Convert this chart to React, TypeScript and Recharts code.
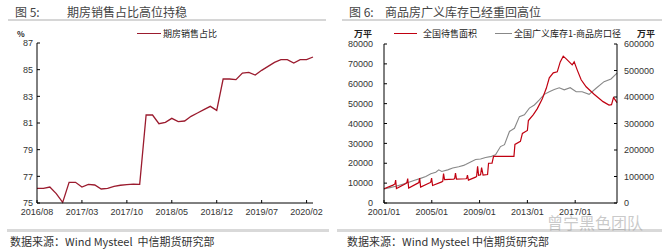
import { LineChart, Line, XAxis, YAxis } from "recharts";

// 图5：期房销售占比（%）
const presaleMonths = [
  "2016/08", "2016/09", "2016/10", "2016/11", "2016/12",
  "2017/01", "2017/02", "2017/03", "2017/04", "2017/05", "2017/06",
  "2017/07", "2017/08", "2017/09", "2017/10", "2017/11", "2017/12",
  "2018/01", "2018/02", "2018/03", "2018/04", "2018/05", "2018/06",
  "2018/07", "2018/08", "2018/09", "2018/10", "2018/11", "2018/12",
  "2019/01", "2019/02", "2019/03", "2019/04", "2019/05", "2019/06",
  "2019/07", "2019/08", "2019/09", "2019/10", "2019/11", "2019/12",
  "2020/01", "2020/02", "2020/03",
];
const presaleShare = [
  76.1, 76.1, 76.2, 75.7, 75.05,
  76.55, 76.55, 76.2, 76.4, 76.35, 76.05,
  76.1, 76.25, 76.33, 76.38, 76.42, 76.4,
  81.6, 81.6, 80.95, 81.05, 81.35, 81.1,
  81.15, 81.5, 81.75, 82.0, 82.25, 81.95,
  84.3, 84.3, 84.25, 84.75, 84.8, 84.6,
  84.95, 85.25, 85.55, 85.75, 85.75, 85.5,
  85.75, 85.75, 85.95,
];
const shareTicks = [75, 77, 79, 81, 83, 85, 87];

// 图6：months counted from 2001/01
const saleMonths = [
  0, 9, 11, 11.7, 12.5, 22, 23, 23.8, 24.8, 34, 35, 35.8, 36.8,
  46, 47, 47.8, 48.8, 58, 59, 59.8, 60.8, 70, 71, 71.8, 72.8,
  82, 83, 83.8, 84.8, 92, 93, 94, 95, 97, 98, 99.5, 104, 105,
  108.5, 110, 130.5, 131.5, 137, 139, 144, 145, 150, 154, 159,
  163, 166, 170, 174, 177, 180, 183, 186, 189, 191, 194, 198,
  203, 211, 220, 226, 228.5, 230.5, 232, 234,
];
const saleArea = [
  7200, 9000, 9600, 11500, 7300, 9800, 10300, 12300, 7500, 10000, 10300, 12500, 8000,
  10200, 10500, 12500, 8800, 10600, 11000, 14800, 11800, 12000, 12400, 15000, 12000,
  12200, 12300, 14000, 11500, 13000, 13400, 18500, 14000, 14200, 17800, 14000, 14300, 20000,
  20000, 23500, 23500, 29500, 31000, 35000, 36500, 41500, 44500, 47500, 52500,
  57700, 63000, 65500, 66000, 71000, 73900, 72500, 71000, 69500, 71000, 67000, 62000,
  58500, 54700, 51000, 49300, 49500, 53000, 52000, 50500,
];
const broadMonths = [
  0, 6, 12, 18, 25, 30, 36, 42, 47, 52, 55, 58, 64, 69, 75, 80, 82,
  86, 92, 97, 102, 108, 112, 117, 121, 126, 131, 136, 141, 146, 151,
  156, 161, 166, 171, 176, 181, 187, 193, 199, 206, 213, 221, 228, 234,
];
const broadStock = [
  53000, 58000, 63000, 70000, 78000, 85000, 92000, 100000, 110000, 116000, 125000, 119000,
  125000, 132000, 137000, 142000, 145000, 153000, 164000, 166000, 172000, 176000, 182000,
  213000, 220000, 270000, 282000, 326000, 333000, 358000, 370000, 389000, 410000, 420000,
  428000, 435000, 427000, 435000, 420000, 420000, 410000, 433000, 458000, 468000, 490000,
];
const areaTicks = [0, 10000, 20000, 30000, 40000, 50000, 60000, 70000, 80000];
const broadTicks = [0, 100000, 200000, 300000, 400000, 500000, 600000];
const yearTicks = [0, 48, 96, 144, 192];

const presaleData = presaleMonths.map((m, i) => ({ label: m, share: presaleShare[i] }));
const saleData = saleMonths.map((m, i) => ({ m, v: saleArea[i] }));
const broadData = broadMonths.map((m, i) => ({ m, v: broadStock[i] }));

const tickFont = { fill: "#333", fontSize: 9, fontFamily: "Liberation Sans, Arial" };
const cjk = "'Noto Sans CJK SC', sans-serif";

const Txt = ({ x, y, size, children, bold, color }: any) => (
  <div
    style={{
      position: "absolute",
      left: x,
      top: y - size / 2,
      fontSize: size,
      lineHeight: `${size}px`,
      fontFamily: cjk,
      fontWeight: bold ? 700 : 400,
      color: color || "#333",
      whiteSpace: "nowrap",
    }}
  >
    {children}
  </div>
);

const Rule = ({ x, y, w, h, color }: any) => (
  <div style={{ position: "absolute", left: x, top: y, width: w, height: h, background: color }} />
);

export default function App() {
  return (
    <div style={{ position: "absolute", left: 0, top: 0, width: 664, height: 250, background: "#fff", overflow: "hidden" }}>
      {/* left panel */}
      <Txt x={15} y={11.5} size={12} color="#444">图 5:</Txt>
      <Txt x={67} y={11.5} size={12} color="#444">期房销售占比高位持稳</Txt>
      <Rule x={8} y={19} w={318} h={2} color="#d6d6d6" />
      <Txt x={17} y={33.5} size={8} bold color="#222">%</Txt>
      <Rule x={137} y={33} w={24} h={1.2} color="#9b1b2e" />
      <Txt x={163} y={33.5} size={9} color="#222">期房销售占比</Txt>

      <div style={{ position: "absolute", left: 0, top: 0 }}>
        <LineChart width={332} height={220} data={presaleData} margin={{ top: 43, right: 19, bottom: 0, left: 0 }}>
          <XAxis
            dataKey="label"
            interval={6}
            height={17}
            tick={tickFont}
            tickSize={-3}
            tickMargin={9}
            axisLine={{ stroke: "#000" }}
            tickLine={{ stroke: "#000" }}
          />
          <YAxis
            domain={[75, 87]}
            ticks={shareTicks}
            width={37}
            tick={tickFont}
            tickSize={-3}
            tickMargin={7}
            axisLine={{ stroke: "#000" }}
            tickLine={{ stroke: "#000" }}
          />
          <Line dataKey="share" stroke="#9b1b2e" strokeWidth={1.3} dot={false} isAnimationActive={false} />
        </LineChart>
      </div>
      <Rule x={7} y={229} w={322} h={2.5} color="#d9d9d9" />
      <Txt x={10} y={241} size={11} color="#333">数据来源：Wind Mysteel&nbsp; 中信期货研究部</Txt>

      {/* right panel */}
      <Txt x={349} y={11.5} size={12} color="#444">图 6:</Txt>
      <Txt x={385} y={11.5} size={12} color="#444">商品房广义库存已经重回高位</Txt>
      <Rule x={342} y={19} w={320} h={2} color="#d6d6d6" />
      <Txt x={354} y={33.5} size={9} bold color="#222">万平</Txt>
      <Txt x={637} y={33.5} size={9} bold color="#222">万平</Txt>
      <Rule x={394} y={33} w={23} h={1.2} color="#c00010" />
      <Txt x={423} y={33.5} size={9} color="#222">全国待售面积</Txt>
      <Rule x={495} y={33} w={17} h={1.2} color="#888" />
      <Txt x={514} y={33.5} size={9} color="#222">全国广义库存1-商品房口径</Txt>

      <div style={{ position: "absolute", left: 332, top: 0 }}>
        <LineChart width={332} height={220} margin={{ top: 44, right: 0, bottom: 0, left: 0 }}>
          <XAxis
            type="number"
            dataKey="m"
            domain={[0, 234]}
            ticks={yearTicks}
            tickFormatter={(m: number) => `${2001 + m / 12}/01`}
            height={17}
            tick={tickFont}
            tickSize={-3}
            tickMargin={9}
            axisLine={{ stroke: "#000" }}
            tickLine={{ stroke: "#000" }}
          />
          <YAxis
            yAxisId="area"
            domain={[0, 80000]}
            ticks={areaTicks}
            width={52}
            tick={tickFont}
            tickSize={-3}
            tickMargin={14}
            axisLine={{ stroke: "#000" }}
            tickLine={{ stroke: "#000" }}
          />
          <YAxis
            yAxisId="broad"
            orientation="right"
            domain={[0, 600000]}
            ticks={broadTicks}
            width={47}
            tick={tickFont}
            tickSize={-3}
            tickMargin={10}
            axisLine={{ stroke: "#000" }}
            tickLine={{ stroke: "#000" }}
          />
          <Line
            yAxisId="broad"
            data={broadData}
            dataKey="v"
            stroke="#888"
            strokeWidth={1.1}
            dot={false}
            isAnimationActive={false}
          />
          <Line
            yAxisId="area"
            data={saleData}
            dataKey="v"
            stroke="#c00010"
            strokeWidth={1.2}
            dot={false}
            isAnimationActive={false}
          />
        </LineChart>
      </div>
      <Rule x={337} y={229} w={325} h={2.5} color="#d9d9d9" />
      <Txt x={347} y={241} size={11} color="#333">数据来源：Wind Mysteel 中信期货研究部</Txt>
      <Txt x={547} y={222} size={16} color="rgba(150,150,150,0.5)">曾宁黑色团队</Txt>
    </div>
  );
}
